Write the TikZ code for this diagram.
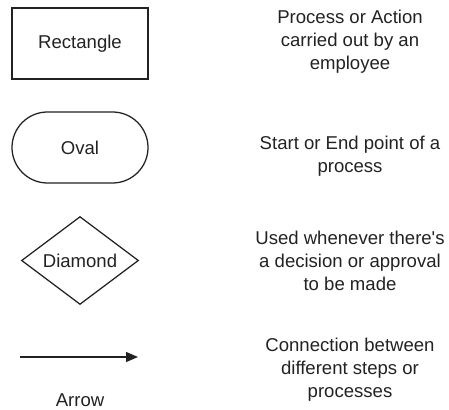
\documentclass[tikz,border=0pt]{standalone}
\usepackage{fontspec}
\setmainfont{Liberation Sans}
\usetikzlibrary{shapes.geometric,shapes.misc,arrows.meta}
\definecolor{ink}{HTML}{222222}
\begin{document}
\begin{tikzpicture}[font=\fontsize{13.2}{16.3}\selectfont,x=0.25mm,y=-0.25mm,color=ink,line width=0.9pt,
  shapebox/.style={draw,minimum width=34mm,minimum height=17.75mm,inner sep=0pt},
  desc/.style={align=center}]

\useasboundingbox (0,0) rectangle (449,410);

\node[shapebox] (rect) at (80,43.5) {Rectangle};
\node[shapebox,rounded rectangle] (oval) at (80,147.5) {Oval};
\node[draw,diamond,minimum width=29.25mm,minimum height=21.75mm,inner sep=0pt] (diam) at (80,260.5) {Diamond};
\coordinate (arrstart) at (20,357);
\coordinate (arrend) at (138,357);
\draw[-{Triangle[length=3mm,width=2.5mm]}] (arrstart) -- (arrend);
\node[] (arrlabel) at (80,400) {Arrow};

\node[desc] (rectdesc) at (350,42) {Process or Action\\carried out by an\\employee};
\node[desc] (ovaldesc) at (350,156) {Start or End point of a\\process};
\node[desc] (diamdesc) at (350,261) {Used whenever there\textquotesingle s\\a decision or approval\\to be made};
\node[desc] (arrdesc) at (350,370) {Connection between\\different steps or\\processes};

\end{tikzpicture}
\end{document}
